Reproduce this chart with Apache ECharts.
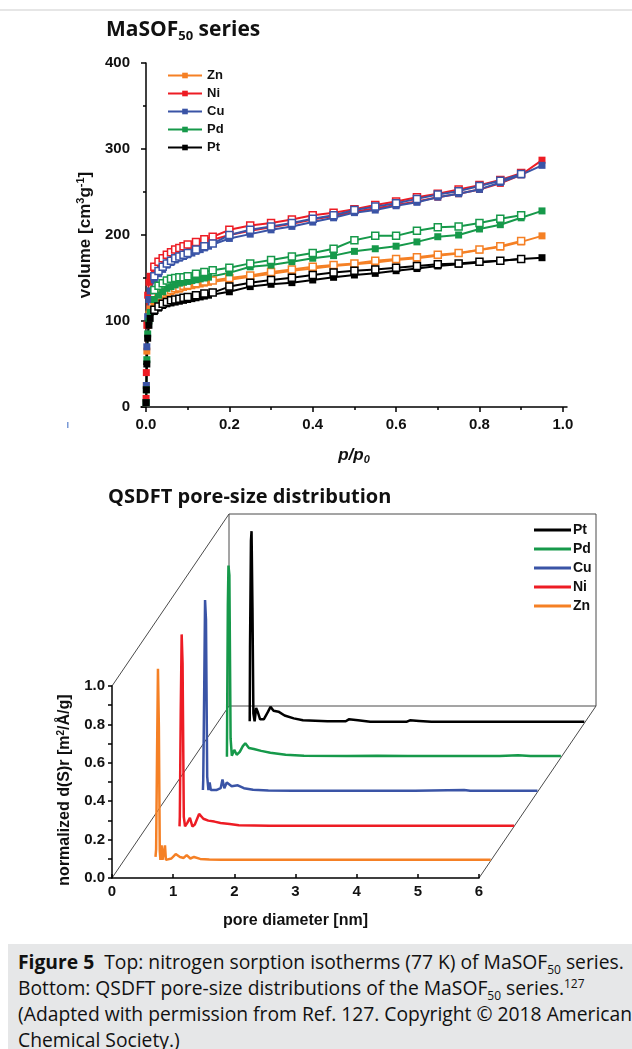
<!DOCTYPE html>
<html>
<head>
<meta charset="utf-8">
<script src="https://cdn.jsdelivr.net/npm/echarts@6/dist/echarts.min.js"></script>
<style>
html, body { margin: 0; padding: 0; background: #fff; }
#page { position: relative; width: 632px; height: 1049px; overflow: hidden; }
#topline { position: absolute; left: 0; top: 9px; width: 632px; height: 2px; background: #e6e6e6; }
#iso, #psd { position: absolute; left: 0; top: 0; width: 632px; height: 940px; }
#caption {
  position: absolute; left: 8px; top: 944px; width: 624px; height: 105px;
  background: #e6e7e8; box-sizing: border-box; padding: 5px 0 0 10px;
  font-family: "Open Sans", sans-serif; font-size: 19.3px; line-height: 26px;
  color: #111; white-space: nowrap;
}
#caption sub, #caption sup { font-size: 12px; line-height: 0; }
</style>
</head>
<body>
<div id="page">
  <div id="topline"></div>
  <div id="iso"></div>
  <div id="psd"></div>
  <div id="caption">
    <b>Figure 5</b>&nbsp; Top: nitrogen sorption isotherms (77 K) of MaSOF<sub>50</sub> series.<br>
    Bottom: QSDFT pore-size distributions of the MaSOF<sub>50</sub> series.<sup>127</sup><br>
    (Adapted with permission from Ref. 127. Copyright © 2018 American<br>
    Chemical Society.)
  </div>
</div>
<script>
// ---- isotherms (top) ----
var P_ADS = [0.0002, 0.0008, 0.002, 0.004, 0.007, 0.01, 0.02, 0.03, 0.04, 0.05, 0.06, 0.07, 0.08, 0.09,
  0.10, 0.11, 0.12, 0.13, 0.14, 0.15, 0.20, 0.25, 0.30, 0.35, 0.40, 0.45, 0.50, 0.55, 0.60, 0.65,
  0.70, 0.75, 0.80, 0.85, 0.90, 0.95];
var P_DES = [0.02, 0.03, 0.04, 0.05, 0.06, 0.07, 0.08, 0.09, 0.10, 0.12, 0.14, 0.16, 0.20, 0.25, 0.30,
  0.35, 0.40, 0.45, 0.50, 0.55, 0.60, 0.65, 0.70, 0.75, 0.80, 0.85, 0.90];

var ZN_ADS = [5, 25, 65, 95, 108, 114, 122, 127, 130, 132, 134, 136, 137, 139, 140, 141, 142, 143, 144, 145,
  148, 151.5, 155, 158.5, 161, 164, 166, 168, 171, 173, 176, 178.5, 182.5, 186, 192, 199];
var ZN_DES = [124, 129, 132, 134, 136, 138, 139, 141, 142, 144, 146, 147, 150, 153, 157, 160, 163, 165,
  167, 170, 172, 174, 177, 179, 183, 187, 193];
var NI_ADS = [10, 40, 95, 130, 145, 152, 160, 166, 170, 173, 176, 179, 181, 183, 185, 187, 189, 190, 192, 193,
  200, 205, 209, 213, 218, 222, 227, 231, 235, 239, 244, 248, 253, 260, 270, 287];
var NI_DES = [163, 169, 173, 177, 180, 183, 185, 187, 189, 192, 195, 198, 206, 211, 214, 218, 223, 226,
  230, 235, 239, 244, 248, 253, 258, 264, 272];
var CU_ADS = [5, 25, 70, 105, 125, 135, 148, 155, 160, 165, 168, 171, 173, 175, 177, 179, 181, 183, 185, 187,
  196, 201, 206, 210, 215, 220, 226, 229, 234, 238, 244, 248, 253, 261, 270, 281];
var CU_DES = [152, 158, 163, 167, 170, 173, 175, 177, 179, 183, 187, 190, 200, 206, 210, 214, 219, 223,
  229, 233, 237, 242, 247, 251, 257, 263, 271];
var PD_ADS = [5, 20, 55, 85, 100, 110, 125, 130, 134, 138, 140, 142, 144, 145, 146, 147, 148, 149, 150, 151,
  156, 163, 165, 169, 173, 176, 181, 184, 187, 192, 198, 200, 207, 212, 220, 228];
var PD_DES = [136, 141, 144, 147, 149, 150, 151, 151, 152, 155, 157, 159, 162, 167, 171, 175, 179, 184,
  194, 199, 199, 205, 209, 210, 214, 219, 223];
var PT_ADS = [5, 20, 50, 80, 95, 103, 111, 115, 118, 120, 121, 122, 123, 124, 125, 126, 127, 128, 129, 130,
  134, 140, 142.7, 144.6, 147.7, 150.8, 153.5, 155.4, 158.5, 161, 164, 166, 168, 170, 172, 173.6];
var PT_DES = [113, 117, 120, 122, 124, 125, 126, 127, 128, 130, 132, 133, 140, 144.6, 147.7, 150.4, 153.5,
  156.4, 158.5, 160, 162, 164, 166, 167, 169, 170, 172];

var X_TICKS = [0, 0.2, 0.4, 0.6, 0.8, 1.0];
var X_MINOR = [0.1, 0.3, 0.5, 0.7, 0.9];

// ---- pore-size distribution (bottom) ----
var ZN_D   = [0.52, 0.53, 0.545, 0.56, 0.575, 0.59, 0.60, 0.62, 0.635, 0.66, 0.675, 0.69, 0.72, 0.78, 0.85,
  0.92, 0.98, 1.03, 1.09, 1.15, 1.25, 1.4, 1.6, 2.0, 3.0, 4.0, 5.0, 6.0];
var ZN_PSD = [0.02, 0.06, 0.55, 1.0, 0.7, 0.05, 0.005, 0.08, 0.005, 0.005, 0.08, 0.005, 0.005, 0.012, 0.035,
  0.02, 0.015, 0.03, 0.012, 0.02, 0.01, 0.007, 0.005, 0.005, 0.005, 0.005, 0.005, 0.005];
var NI_D   = [0.53, 0.535, 0.55, 0.565, 0.58, 0.60, 0.62, 0.66, 0.70, 0.74, 0.78, 0.85, 0.92, 1.0, 1.1,
  1.2, 1.35, 1.5, 2.0, 3.0, 4.0, 5.0, 6.0];
var NI_PSD = [0.0, 0.05, 0.6, 1.0, 0.85, 0.05, 0.0, 0.02, 0.045, 0.0, 0.01, 0.065, 0.04, 0.03, 0.025,
  0.018, 0.012, 0.006, 0.004, 0.004, 0.004, 0.004, 0.004];
var CU_D   = [0.53, 0.535, 0.55, 0.565, 0.58, 0.60, 0.62, 0.64, 0.66, 0.75, 0.82, 0.85, 0.88, 0.92, 1.0,
  1.1, 1.2, 1.35, 1.6, 2.0, 3.0, 4.0, 4.8, 4.9, 6.0];
var CU_PSD = [0.01, 0.06, 0.5, 1.0, 0.9, 0.08, 0.01, 0.05, 0.01, 0.01, 0.02, 0.065, 0.02, 0.05, 0.03,
  0.035, 0.02, 0.012, 0.008, 0.007, 0.007, 0.006, 0.01, 0.006, 0.006];
var PD_D   = [0.54, 0.545, 0.555, 0.565, 0.58, 0.60, 0.62, 0.66, 0.70, 0.75, 0.80, 0.84, 0.90, 0.98, 1.1,
  1.25, 1.5, 1.8, 2.5, 3.0, 3.5, 5.0, 5.3, 5.5, 6.0];
var PD_PSD = [0.005, 0.3, 0.8, 1.0, 0.95, 0.1, 0.01, 0.04, 0.015, 0.03, 0.06, 0.075, 0.05, 0.045, 0.035,
  0.025, 0.015, 0.01, 0.008, 0.01, 0.008, 0.008, 0.012, 0.008, 0.008];
var PT_D   = [0.53, 0.535, 0.55, 0.56, 0.575, 0.59, 0.61, 0.635, 0.66, 0.70, 0.76, 0.83, 0.87, 0.92, 1.0,
  1.1, 1.25, 1.4, 1.8, 2.1, 2.15, 2.3, 2.5, 3.1, 3.15, 3.3, 3.5, 6.0];
var PT_PSD = [0.01, 0.4, 0.95, 1.0, 0.6, 0.05, 0.01, 0.08, 0.06, 0.02, 0.02, 0.06, 0.085, 0.065, 0.06,
  0.04, 0.025, 0.015, 0.01, 0.01, 0.02, 0.015, 0.008, 0.008, 0.015, 0.012, 0.008, 0.008];

var METALS = ['Zn', 'Ni', 'Cu', 'Pd', 'Pt'];
var COLORS = { Zn: '#f58025', Ni: '#ed1c24', Cu: '#3a54a6', Pd: '#16994a', Pt: '#000000' };
var ISO = {
  Zn: { ads: ZN_ADS, des: ZN_DES }, Ni: { ads: NI_ADS, des: NI_DES }, Cu: { ads: CU_ADS, des: CU_DES },
  Pd: { ads: PD_ADS, des: PD_DES }, Pt: { ads: PT_ADS, des: PT_DES }
};
var PSD = {
  Zn: { d: ZN_D, v: ZN_PSD }, Ni: { d: NI_D, v: NI_PSD }, Cu: { d: CU_D, v: CU_PSD },
  Pd: { d: PD_D, v: PD_PSD }, Pt: { d: PT_D, v: PT_PSD }
};

var FONT = 'Liberation Sans, Arial, sans-serif';
var TITLE_FONT = 'Open Sans, Noto Sans, sans-serif';

function pairs(xs, ys) {
  return xs.map(function (x, i) { return [x, ys[i]]; });
}

// ================= top chart =================
var isoChart = echarts.init(document.getElementById('iso'), null, { renderer: 'canvas' });
var isoSeries = [];
METALS.forEach(function (m) {
  isoSeries.push({
    name: m, type: 'line', data: pairs(P_ADS, ISO[m].ads),
    symbol: 'rect', symbolSize: 7, showAllSymbol: true,
    lineStyle: { color: COLORS[m], width: 2 },
    itemStyle: { color: COLORS[m] }
  });
  isoSeries.push({
    name: m + ' des', type: 'line', data: pairs(P_DES, ISO[m].des),
    symbol: 'rect', symbolSize: 7, showAllSymbol: true,
    lineStyle: { color: COLORS[m], width: 2 },
    itemStyle: { color: '#ffffff', borderColor: COLORS[m], borderWidth: 1.5 }
  });
});

isoChart.setOption({
  animation: false,
  title: {
    text: 'MaSOF{sub|50} series', left: 101, top: 13,
    textStyle: {
      fontFamily: TITLE_FONT, fontWeight: 'bold', fontSize: 21, color: '#111',
      rich: { sub: { fontFamily: TITLE_FONT, fontWeight: 'bold', fontSize: 13, color: '#111', verticalAlign: 'bottom', padding: [12, 0, 0, 0] } }
    }
  },
  legend: {
    data: METALS, orient: 'vertical', left: 162, top: 64,
    itemWidth: 34, itemHeight: 7, itemGap: 5,
    textStyle: { fontFamily: FONT, fontWeight: 'bold', fontSize: 13, color: '#111' }
  },
  grid: { left: 141, top: 63, width: 426, height: 344, outerBoundsMode: 'none' },
  xAxis: [{
    type: 'value', min: -0.012, max: 1.01,
    axisLine: { lineStyle: { color: '#000', width: 1.5 } },
    axisTick: { customValues: X_TICKS, length: 5, lineStyle: { color: '#000', width: 1.5 } },
    axisLabel: {
      customValues: X_TICKS, margin: 10, formatter: function (v) { return v.toFixed(1); },
      fontFamily: FONT, fontWeight: 'bold', fontSize: 15, color: '#111'
    },
    splitLine: { show: false },
    name: 'p/p{sub|0}', nameLocation: 'middle', nameGap: 38,
    nameTextStyle: {
      fontFamily: FONT, fontWeight: 'bold', fontStyle: 'italic', fontSize: 17, color: '#111',
      rich: { sub: { fontFamily: FONT, fontWeight: 'bold', fontSize: 11, color: '#111', verticalAlign: 'bottom', padding: [9, 0, 0, 0] } }
    }
  }, {
    type: 'value', min: -0.012, max: 1.01, position: 'bottom',
    axisLine: { show: false },
    axisTick: { customValues: X_MINOR, length: 3, lineStyle: { color: '#000', width: 1.5 } },
    axisLabel: { show: false },
    splitLine: { show: false }
  }],
  yAxis: {
    type: 'value', min: 0, max: 400, interval: 100,
    axisLine: { show: true, lineStyle: { color: '#000', width: 1.5 } },
    axisTick: { show: true, length: 5, lineStyle: { color: '#000', width: 1.5 } },
    minorTick: { show: true, splitNumber: 2, length: 3, lineStyle: { color: '#000', width: 1.5 } },
    axisLabel: { margin: 11, fontFamily: FONT, fontWeight: 'bold', fontSize: 15, color: '#111' },
    splitLine: { show: false },
    name: 'volume [cm{sup|3}g{sup|-1}]', nameLocation: 'middle', nameGap: 46,
    nameTextStyle: {
      fontFamily: FONT, fontWeight: 'bold', fontSize: 17, color: '#111',
      rich: { sup: { fontFamily: FONT, fontWeight: 'bold', fontSize: 11, color: '#111', verticalAlign: 'top', padding: [0, 0, 9, 0] } }
    }
  },
  graphic: [{ type: 'rect', shape: { x: 67, y: 422, width: 1.5, height: 6 }, style: { fill: '#7a9ad6' } }],
  series: isoSeries
});

// ================= bottom chart =================
var FRONT = { left: 112, top: 686, width: 367, height: 192 };
var DEPTH_DX = 117, DEPTH_DY = -172;
var LAYER = { Zn: 0.1, Ni: 0.3, Cu: 0.5, Pd: 0.7, Pt: 0.9 };

var psdChart = echarts.init(document.getElementById('psd'), null, { renderer: 'canvas' });
var grids = [{ left: FRONT.left, top: FRONT.top, width: FRONT.width, height: FRONT.height, outerBoundsMode: 'none' }];
var xAxes = [{
  gridIndex: 0, type: 'value', min: 0, max: 6, interval: 1,
  axisLine: { lineStyle: { color: '#000', width: 1.5 } },
  axisTick: { inside: true, length: 4, lineStyle: { color: '#000', width: 1.5 } },
  axisLabel: { margin: 6, fontFamily: FONT, fontWeight: 'bold', fontSize: 15, color: '#111' },
  splitLine: { show: false },
  name: 'pore diameter [nm]', nameLocation: 'middle', nameGap: 35,
  nameTextStyle: { fontFamily: FONT, fontWeight: 'bold', fontSize: 16, color: '#111' }
}];
var yAxes = [{
  gridIndex: 0, type: 'value', min: 0, max: 1, interval: 0.2,
  axisLine: { show: true, lineStyle: { color: '#000', width: 1.5 } },
  axisTick: { show: true, length: 4, lineStyle: { color: '#000', width: 1.5 } },
  minorTick: { show: true, splitNumber: 2, length: 4, lineStyle: { color: '#000', width: 1.5 } },
  axisLabel: { margin: 7, formatter: function (v) { return v.toFixed(1); }, fontFamily: FONT, fontWeight: 'bold', fontSize: 15, color: '#111' },
  splitLine: { show: false },
  name: 'normalized d(S)r [m{sup|2}/Å/g]', nameLocation: 'middle', nameGap: 38,
  nameTextStyle: {
    fontFamily: FONT, fontWeight: 'bold', fontSize: 16, color: '#111', padding: [0, 16, 0, 0],
    rich: { sup: { fontFamily: FONT, fontWeight: 'bold', fontSize: 10, color: '#111', verticalAlign: 'top', padding: [0, 0, 8, 0] } }
  }
}];
var psdSeries = [];
METALS.forEach(function (m, i) {
  var f = LAYER[m];
  grids.push({
    left: FRONT.left + f * DEPTH_DX, top: FRONT.top + f * DEPTH_DY,
    width: FRONT.width, height: FRONT.height, outerBoundsMode: 'none'
  });
  xAxes.push({ gridIndex: i + 1, type: 'value', min: 0, max: 6, show: false });
  yAxes.push({ gridIndex: i + 1, type: 'value', min: 0, max: 1, show: false });
  psdSeries.push({
    name: m, type: 'line', xAxisIndex: i + 1, yAxisIndex: i + 1,
    data: pairs(PSD[m].d, PSD[m].v), showSymbol: false, clip: false,
    lineStyle: { color: COLORS[m], width: 2.5 }, itemStyle: { color: COLORS[m] }
  });
});

var fl = FRONT.left, ft = FRONT.top, fr = FRONT.left + FRONT.width, fb = FRONT.top + FRONT.height;
function seg(x1, y1, x2, y2) {
  return { type: 'line', shape: { x1: x1, y1: y1, x2: x2, y2: y2 }, style: { stroke: '#4a4a4a', lineWidth: 1 }, silent: true };
}
var frame = [
  seg(fl + DEPTH_DX, ft + DEPTH_DY, fr + DEPTH_DX, ft + DEPTH_DY),
  seg(fl + DEPTH_DX, fb + DEPTH_DY, fr + DEPTH_DX, fb + DEPTH_DY),
  seg(fl + DEPTH_DX, ft + DEPTH_DY, fl + DEPTH_DX, fb + DEPTH_DY),
  seg(fr + DEPTH_DX, ft + DEPTH_DY, fr + DEPTH_DX, fb + DEPTH_DY),
  seg(fl, ft, fl + DEPTH_DX, ft + DEPTH_DY),
  seg(fl, fb, fl + DEPTH_DX, fb + DEPTH_DY),
  seg(fr, fb, fr + DEPTH_DX, fb + DEPTH_DY)
];

psdChart.setOption({
  animation: false,
  title: {
    text: 'QSDFT pore-size distribution', left: 103, top: 482,
    textStyle: { fontFamily: TITLE_FONT, fontWeight: 'bold', fontSize: 20, color: '#111' }
  },
  legend: {
    data: ['Pt', 'Pd', 'Cu', 'Ni', 'Zn'], orient: 'vertical', left: 529, top: 518,
    icon: 'rect', itemWidth: 37, itemHeight: 3, itemGap: 5,
    textStyle: { fontFamily: FONT, fontWeight: 'bold', fontSize: 14, color: '#111', padding: [0, 0, 0, -3] }
  },
  grid: grids,
  xAxis: xAxes,
  yAxis: yAxes,
  graphic: frame,
  series: psdSeries
});
</script>
</body>
</html>
